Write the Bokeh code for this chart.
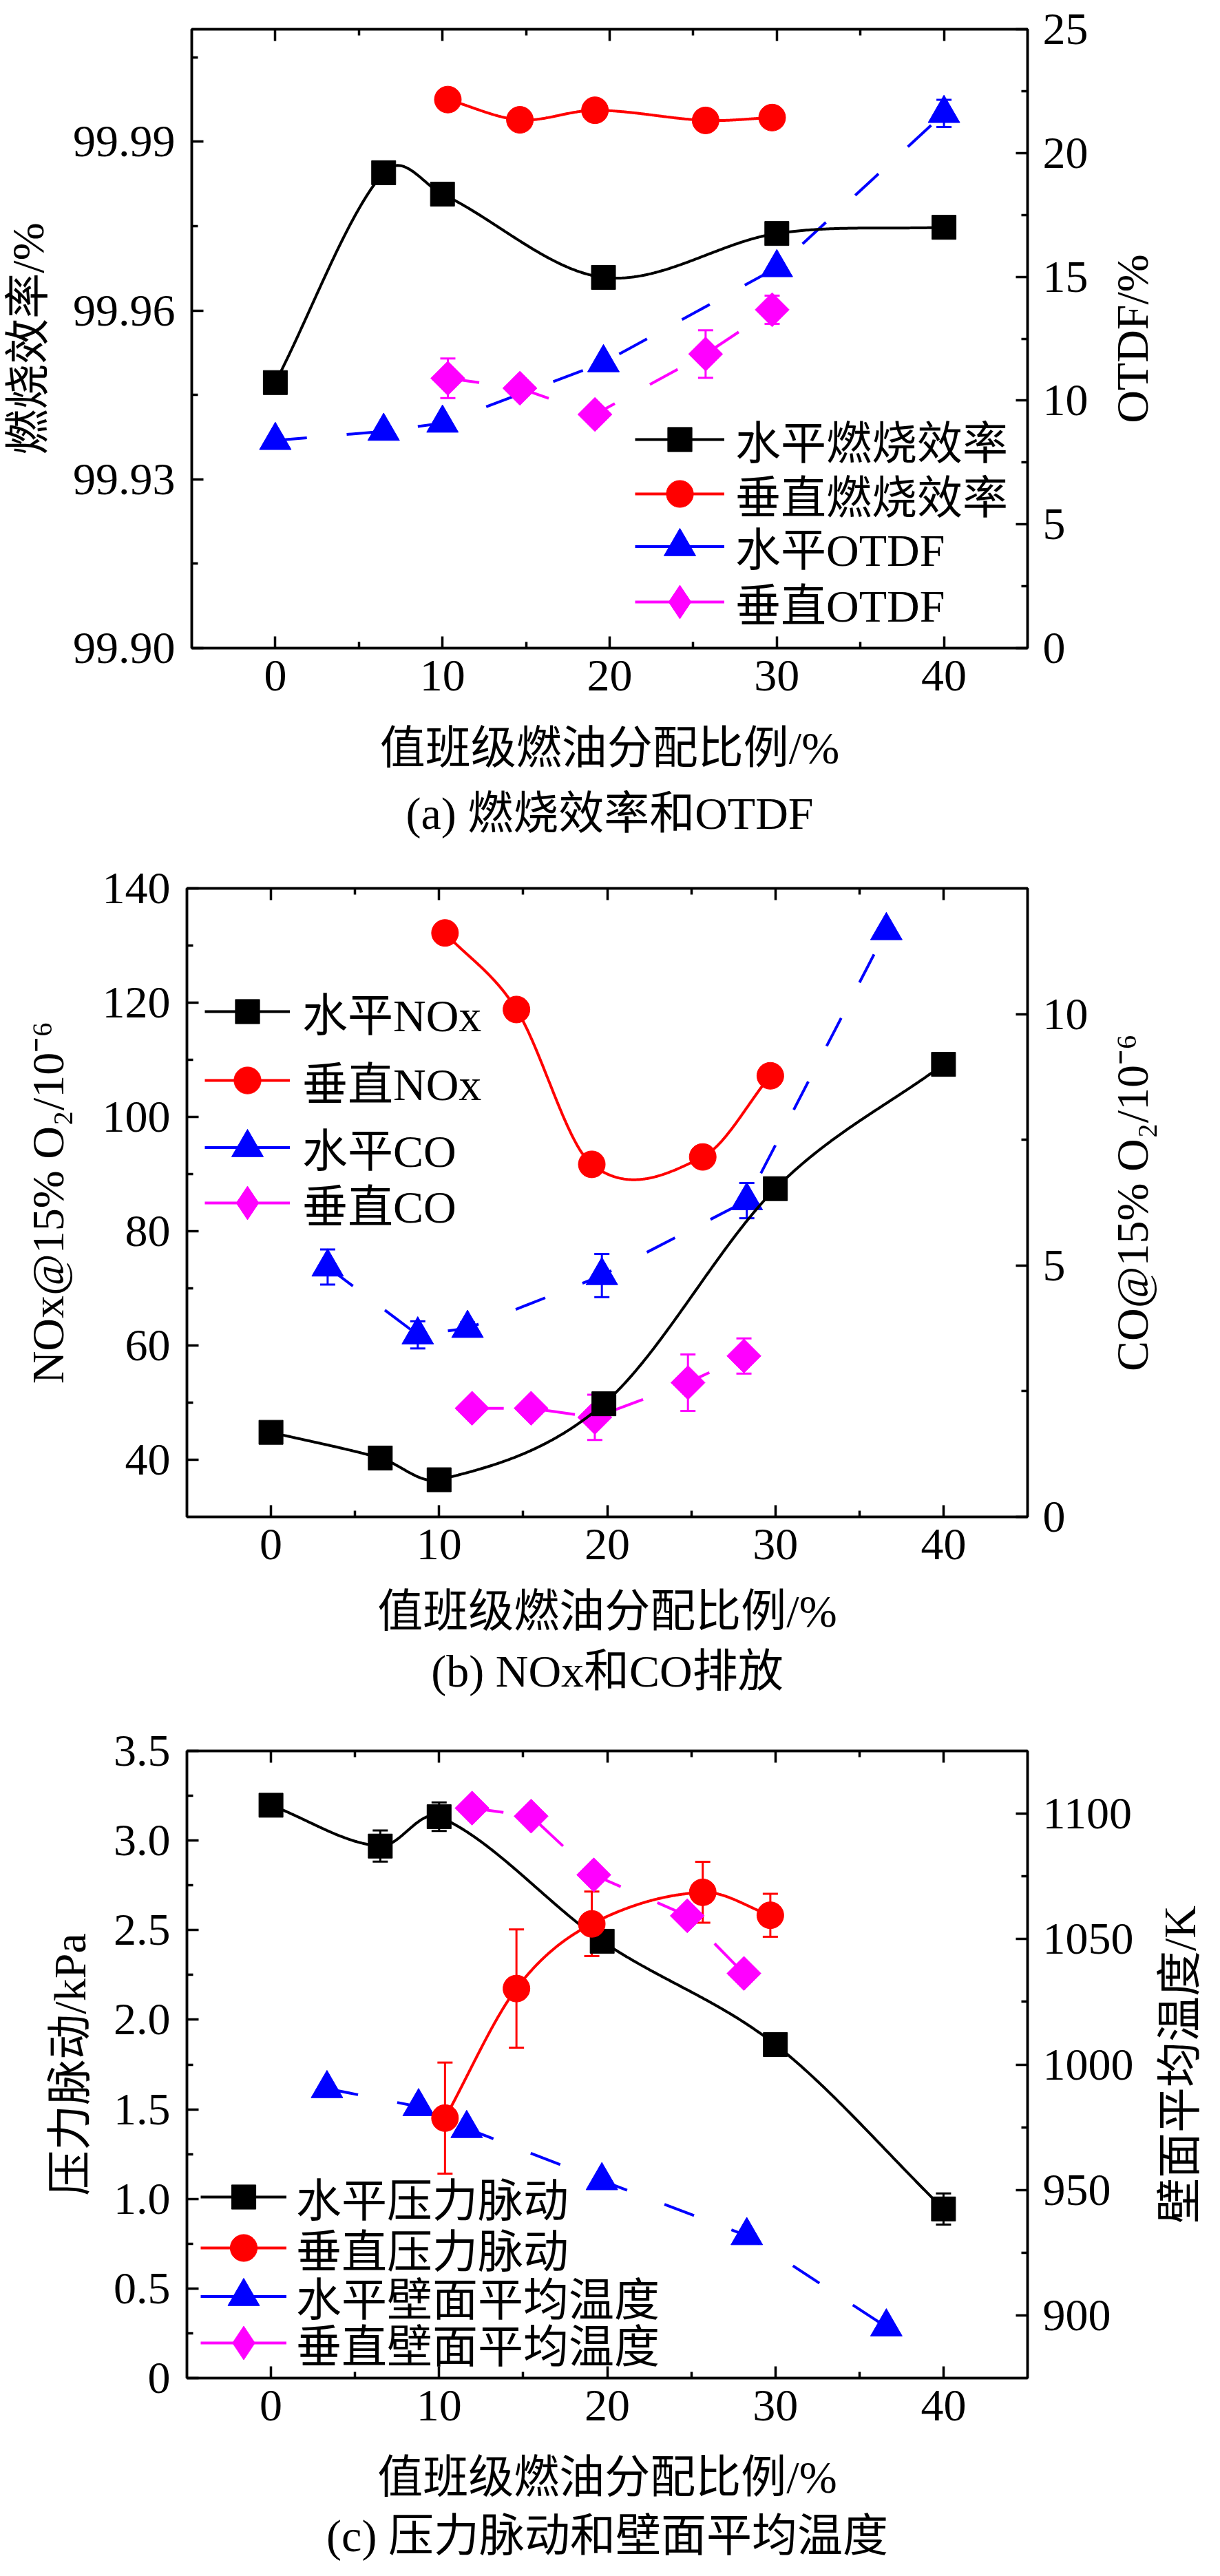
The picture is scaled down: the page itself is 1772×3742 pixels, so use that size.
import math
import numpy as np
from bokeh.plotting import figure
from bokeh.models import (Range1d, LinearAxis, FixedTicker, PrintfTickFormatter, Legend,
                          LegendItem, ColumnDataSource, Whisker, TeeHead)
from bokeh.layouts import column, row
from bokeh.embed import file_html
from bokeh.resources import INLINE

FONT = "Liberation Serif, Noto Sans CJK SC"
NUMFONT = "Liberation Serif"
FS = "66px"
BLACK, RED, BLUE, MAGENTA = "#000000", "#FF0000", "#0000FF", "#FF00FF"
TOTAL_W = 1756
BORDER_L = 271
FRAME_W = 1221

# ---------------- data ----------------
x_ticks = [0, 10, 20, 30, 40]
x_minor = [5, 15, 25, 35]
x_label = "值班级燃油分配比例/%"

# (a) combustion efficiency & OTDF
a_h_eff_x = [0, 6.48, 10, 19.63, 30, 40]
a_h_eff_y = [99.9472, 99.9845, 99.9807, 99.9659, 99.9737, 99.9748]
a_v_eff_x = [10.32, 14.63, 19.12, 25.74, 29.72]
a_v_eff_y = [99.9975, 99.9939, 99.9956, 99.9938, 99.9943]
a_h_otdf_x = [0, 6.48, 10, 19.63, 30, 40]
a_h_otdf_y = [8.39, 8.76, 9.09, 11.53, 15.37, 21.6]
a_h_otdf_err = [0, 0, 0, 0, 0, 0.55]
a_v_otdf_x = [10.32, 14.63, 19.12, 25.74, 29.72]
a_v_otdf_y = [10.9, 10.5, 9.44, 11.88, 13.67]
a_v_otdf_err = [0.8, 0, 0, 0.96, 0.57]
a_left_ticks = [99.90, 99.93, 99.96, 99.99]
a_left_minor = [99.915, 99.945, 99.975, 100.005]
a_right_ticks = [0, 5, 10, 15, 20, 25]
a_right_minor = [2.5, 7.5, 12.5, 17.5, 22.5]

# (b) NOx & CO
b_h_nox_x = [0, 6.5, 10, 19.8, 30, 40]
b_h_nox_y = [44.8, 40.3, 36.5, 49.8, 87.45, 109.2]
b_h_nox_err = [0, 0, 0, 1.4, 0, 0]
b_v_nox_x = [10.35, 14.6, 19.08, 25.68, 29.7]
b_v_nox_y = [132.2, 118.8, 91.7, 93.0, 107.2]
b_h_co_x = [3.37, 8.73, 11.69, 19.68, 28.3, 36.6]
b_h_co_y = [4.97, 3.62, 3.75, 4.80, 6.29, 11.66]
b_h_co_err = [0.35, 0.27, 0.12, 0.43, 0.35, 0]
b_v_co_x = [11.96, 15.47, 19.26, 24.8, 28.13]
b_v_co_y = [2.16, 2.16, 1.98, 2.67, 3.2]
b_v_co_err = [0, 0, 0.45, 0.56, 0.35]
b_left_ticks = [40, 60, 80, 100, 120, 140]
b_left_minor = [50, 70, 90, 110, 130]
b_right_ticks = [0, 5, 10]
b_right_minor = [2.5, 7.5]

# (c) pressure pulsation & wall temperature
c_h_p_x = [0, 6.5, 10, 19.7, 30, 40]
c_h_p_y = [3.197, 2.969, 3.133, 2.438, 1.861, 0.944]
c_h_p_err = [0.05, 0.087, 0.08, 0.04, 0.03, 0.087]
c_v_p_x = [10.35, 14.6, 19.08, 25.68, 29.7]
c_v_p_y = [1.451, 2.174, 2.535, 2.711, 2.583]
c_v_p_err = [0.31, 0.33, 0.18, 0.17, 0.12]
c_h_t_x = [3.33, 8.78, 11.64, 19.68, 28.3, 36.6]
c_h_t_y = [990.4, 983.2, 974.5, 953.7, 931.8, 895.4]
c_v_t_x = [11.96, 15.47, 19.2, 24.76, 28.13]
c_v_t_y = [1102.2, 1099.0, 1075.6, 1059.3, 1036.3]
c_left_ticks = [0, 0.5, 1.0, 1.5, 2.0, 2.5, 3.0, 3.5]
c_left_minor = [0.25, 0.75, 1.25, 1.75, 2.25, 2.75, 3.25]
c_right_ticks = [900, 950, 1000, 1050, 1100]
c_right_minor = [925, 975, 1025, 1075]


# ---------------- helpers ----------------
def smooth_curve(xs, ys, n=400):
    """Piecewise cubic Hermite curve through the measured points
    (tangents from neighbouring points, like a cardinal spline)."""
    x = np.asarray(xs, float)
    y = np.asarray(ys, float)
    k = len(x)
    m = np.zeros(k)
    m[0] = (y[1] - y[0]) / (x[1] - x[0])
    m[-1] = (y[-1] - y[-2]) / (x[-1] - x[-2])
    for i in range(1, k - 1):
        m[i] = (y[i + 1] - y[i - 1]) / (x[i + 1] - x[i - 1])
    xx = np.linspace(x[0], x[-1], n)
    idx = np.clip(np.searchsorted(x, xx) - 1, 0, k - 2)
    h = x[idx + 1] - x[idx]
    t = (xx - x[idx]) / h
    h00 = 2 * t ** 3 - 3 * t ** 2 + 1
    h10 = t ** 3 - 2 * t ** 2 + t
    h01 = -2 * t ** 3 + 3 * t ** 2
    h11 = t ** 3 - t ** 2
    yy = h00 * y[idx] + h10 * h * m[idx] + h01 * y[idx + 1] + h11 * h * m[idx + 1]
    return xx, yy


def style_axis(ax, ticks, minor, labels=True):
    ax.ticker = FixedTicker(ticks=ticks, minor_ticks=minor)
    ax.axis_line_width = 3.5
    ax.axis_line_color = "black"
    ax.major_tick_in = 17
    ax.major_tick_out = 0
    ax.minor_tick_in = 9
    ax.minor_tick_out = 0
    ax.major_tick_line_width = 3.5
    ax.minor_tick_line_width = 3.5
    ax.major_label_text_font = NUMFONT
    ax.major_label_text_color = "black"
    if labels:
        ax.major_label_text_font_size = FS
    else:
        ax.major_label_text_font_size = "1px"
        ax.major_label_text_color = None
        ax.major_label_standoff = 0
    ax.axis_label_text_font = FONT
    ax.axis_label_text_font_size = FS
    ax.axis_label_text_font_style = "normal"
    ax.axis_label_text_color = "black"


def build(height, top, bottom, main_w, yl, yr, lt, lm, rt, rm, lfmt, ylabel, yrlabel,
          title, lstand, xl_stand, title_standoff, side_border):
    p = figure(width=main_w, height=height, x_range=Range1d(-5, 45), y_range=Range1d(*yl),
               output_backend="svg", toolbar_location=None,
               min_border_left=BORDER_L, min_border_right=main_w - BORDER_L - FRAME_W,
               min_border_top=top, min_border_bottom=bottom,
               title=title, title_location="below")
    p.extra_y_ranges = {"r": Range1d(*yr)}
    p.xgrid.visible = False
    p.ygrid.visible = False
    p.outline_line_color = "black"
    p.outline_line_width = 3.5
    p.background_fill_color = "white"
    p.border_fill_color = "white"
    p.title.text_font = FONT
    p.title.text_font_size = FS
    p.title.text_font_style = "normal"
    p.title.text_color = "black"
    p.title.align = "center"
    p.title.standoff = title_standoff

    xa = p.below[0]
    style_axis(xa, x_ticks, x_minor)
    xa.axis_label = x_label
    xa.major_label_standoff = 18
    xa.axis_label_standoff = xl_stand

    ya = p.left[0]
    style_axis(ya, lt, lm)
    ya.axis_label = ylabel
    ya.major_label_standoff = 24
    ya.axis_label_standoff = lstand
    if lfmt is not None:
        ya.formatter = lfmt

    ra = LinearAxis(y_range_name="r")
    style_axis(ra, rt, rm)
    ra.major_label_standoff = 22
    p.add_layout(ra, "right")

    ta = LinearAxis()
    style_axis(ta, x_ticks, x_minor, labels=False)
    p.add_layout(ta, "above")

    # narrow strip on the right whose (tick-less) axis carries the right-hand
    # axis title: it reads bottom-to-top and is centred on the same frame height
    side_w = TOTAL_W - main_w
    s = figure(width=side_w, height=height, x_range=Range1d(0, 1), y_range=Range1d(0, 1),
               output_backend="svg", toolbar_location=None,
               x_axis_location=None, y_axis_location="left",
               min_border_left=side_border, min_border_right=0,
               min_border_top=top, min_border_bottom=bottom)
    s.xgrid.visible = False
    s.ygrid.visible = False
    s.outline_line_color = None
    s.background_fill_color = "white"
    s.border_fill_color = "white"
    sa = s.left[0]
    sa.ticker = FixedTicker(ticks=[])
    sa.axis_line_color = None
    sa.major_tick_line_color = None
    sa.minor_tick_line_color = None
    sa.major_tick_in = 0
    sa.major_tick_out = 0
    sa.minor_tick_in = 0
    sa.minor_tick_out = 0
    sa.major_label_standoff = 0
    sa.axis_label = yrlabel
    sa.axis_label_standoff = 5
    sa.axis_label_text_font = FONT
    sa.axis_label_text_font_size = FS
    sa.axis_label_text_font_style = "normal"
    sa.axis_label_text_color = "black"
    return p, s


def add_err(p, xs, ys, es, color, rname=None):
    sel = [i for i, e in enumerate(es) if e > 0]
    if not sel:
        return
    src = ColumnDataSource(dict(x=[xs[i] for i in sel],
                                lo=[ys[i] - es[i] for i in sel],
                                up=[ys[i] + es[i] for i in sel]))
    w = Whisker(source=src, base="x", lower="lo", upper="up", dimension="height",
                line_color=color, line_width=3,
                upper_head=TeeHead(size=22, line_color=color, line_width=3),
                lower_head=TeeHead(size=22, line_color=color, line_width=3))
    if rname:
        w.y_range_name = rname
    p.add_layout(w)


GLYPH_H = {"square": 88, "circle": 98, "triangle": 115, "diamond": 122}


def series(p, xs, ys, color, kind, smooth, dashed, label, vx, cy, gw, standoff,
           rname="default"):
    if smooth:
        sx, sy = smooth_curve(xs, ys)
    else:
        sx, sy = xs, ys
    kw = dict(line_color=color, line_width=4, y_range_name=rname)
    if dashed:
        kw["line_dash"] = "46 58"
    p.line(sx, sy, **kw)
    # legend key line: a one-point line draws nothing in the plot area
    key_line = p.line(xs[:1], ys[:1], line_color=color, line_width=4, y_range_name=rname)
    if kind == "square":
        key_mk = p.scatter(xs, ys, marker="square", size=35, color=color, y_range_name=rname)
    elif kind == "circle":
        key_mk = p.scatter(xs, ys, marker="circle", size=39, color=color, y_range_name=rname)
    elif kind == "triangle":
        key_mk = p.scatter(xs, ys, marker="triangle", size=46, color=color, y_range_name=rname)
    else:
        # diamond key (hidden beneath the plotted diamonds) + the plotted diamonds
        key_mk = p.scatter(xs, ys, marker="diamond", size=46, color=color, y_range_name=rname)
        p.scatter(xs, ys, marker="square", size=35, angle=math.pi / 4, color=color,
                  y_range_name=rname)
    gh = GLYPH_H[kind]
    leg = Legend(items=[LegendItem(label=label, renderers=[key_line, key_mk])],
                 location=(vx, cy - gh / 2), glyph_width=gw, glyph_height=gh,
                 label_height=gh, label_standoff=standoff, padding=0, margin=0, spacing=0,
                 border_line_alpha=0, background_fill_alpha=0,
                 label_text_font=FONT, label_text_font_size=FS, label_text_color="black")
    p.add_layout(leg)


# ---------------- panel (a) ----------------
pa, sa_ = build(1252, 42, 311, 1604, (99.90, 100.01), (0, 25), a_left_ticks, a_left_minor,
                a_right_ticks, a_right_minor, PrintfTickFormatter(format="%.2f"),
                "燃烧效率/%", "OTDF/%", "(a) 燃烧效率和OTDF", 26, 44, 34, 80)
add_err(pa, a_h_otdf_x, a_h_otdf_y, a_h_otdf_err, BLUE, "r")
add_err(pa, a_v_otdf_x, a_v_otdf_y, a_v_otdf_err, MAGENTA, "r")
series(pa, a_h_otdf_x, a_h_otdf_y, BLUE, "triangle", False, True, "水平OTDF", 644, 148, 130, 16, "r")
series(pa, a_v_otdf_x, a_v_otdf_y, MAGENTA, "diamond", False, True, "垂直OTDF", 644, 67, 130, 16, "r")
series(pa, a_h_eff_x, a_h_eff_y, BLACK, "square", True, False, "水平燃烧效率", 644, 299, 130, 16)
series(pa, a_v_eff_x, a_v_eff_y, RED, "circle", True, False, "垂直燃烧效率", 644, 224, 130, 16)

# ---------------- panel (b) ----------------
pb, sb_ = build(1250, 38, 299, 1604, (30, 140), (0, 12.5), b_left_ticks, b_left_minor,
                b_right_ticks, b_right_minor, None,
                "NOx@15% O₂/10⁻⁶", "CO@15% O₂/10⁻⁶", "(b) NOx和CO排放", 40, 36, 19, 80)
add_err(pb, b_h_nox_x, b_h_nox_y, b_h_nox_err, BLACK)
add_err(pb, b_h_co_x, b_h_co_y, b_h_co_err, BLUE, "r")
add_err(pb, b_v_co_x, b_v_co_y, b_v_co_err, MAGENTA, "r")
series(pb, b_h_co_x, b_h_co_y, BLUE, "triangle", False, True, "水平CO", 26, 537, 124, 18, "r")
series(pb, b_v_co_x, b_v_co_y, MAGENTA, "diamond", False, True, "垂直CO", 26, 456, 124, 18, "r")
series(pb, b_h_nox_x, b_h_nox_y, BLACK, "square", True, False, "水平NOx", 26, 730, 124, 18)
series(pb, b_v_nox_x, b_v_nox_y, RED, "circle", True, False, "垂直NOx", 26, 634, 124, 18)

# ---------------- panel (c) ----------------
pc, sc_ = build(1224, 41, 266, 1668, (0, 3.5), (875, 1125), c_left_ticks, c_left_minor,
                c_right_ticks, c_right_minor, PrintfTickFormatter(format="%.1f"),
                "压力脉动/kPa", "壁面平均温度/K", "(c) 压力脉动和壁面平均温度", 24, 43, 14, 86)
pc.left[0].major_label_overrides = {0: "0"}
add_err(pc, c_h_p_x, c_h_p_y, c_h_p_err, BLACK)
add_err(pc, c_v_p_x, c_v_p_y, c_v_p_err, RED)
series(pc, c_h_t_x, c_h_t_y, BLUE, "triangle", False, True, "水平壁面平均温度", 20, 119, 125, 14, "r")
series(pc, c_v_t_x, c_v_t_y, MAGENTA, "diamond", False, True, "垂直壁面平均温度", 20, 51, 125, 14, "r")
series(pc, c_h_p_x, c_h_p_y, BLACK, "square", True, False, "水平压力脉动", 20, 259, 125, 14)
series(pc, c_v_p_x, c_v_p_y, RED, "circle", True, False, "垂直压力脉动", 20, 189, 125, 14)

layout = column(row(pa, sa_, spacing=0), row(pb, sb_, spacing=0), row(pc, sc_, spacing=0),
                spacing=0)
open("out.html", "w").write(file_html(layout, INLINE))
